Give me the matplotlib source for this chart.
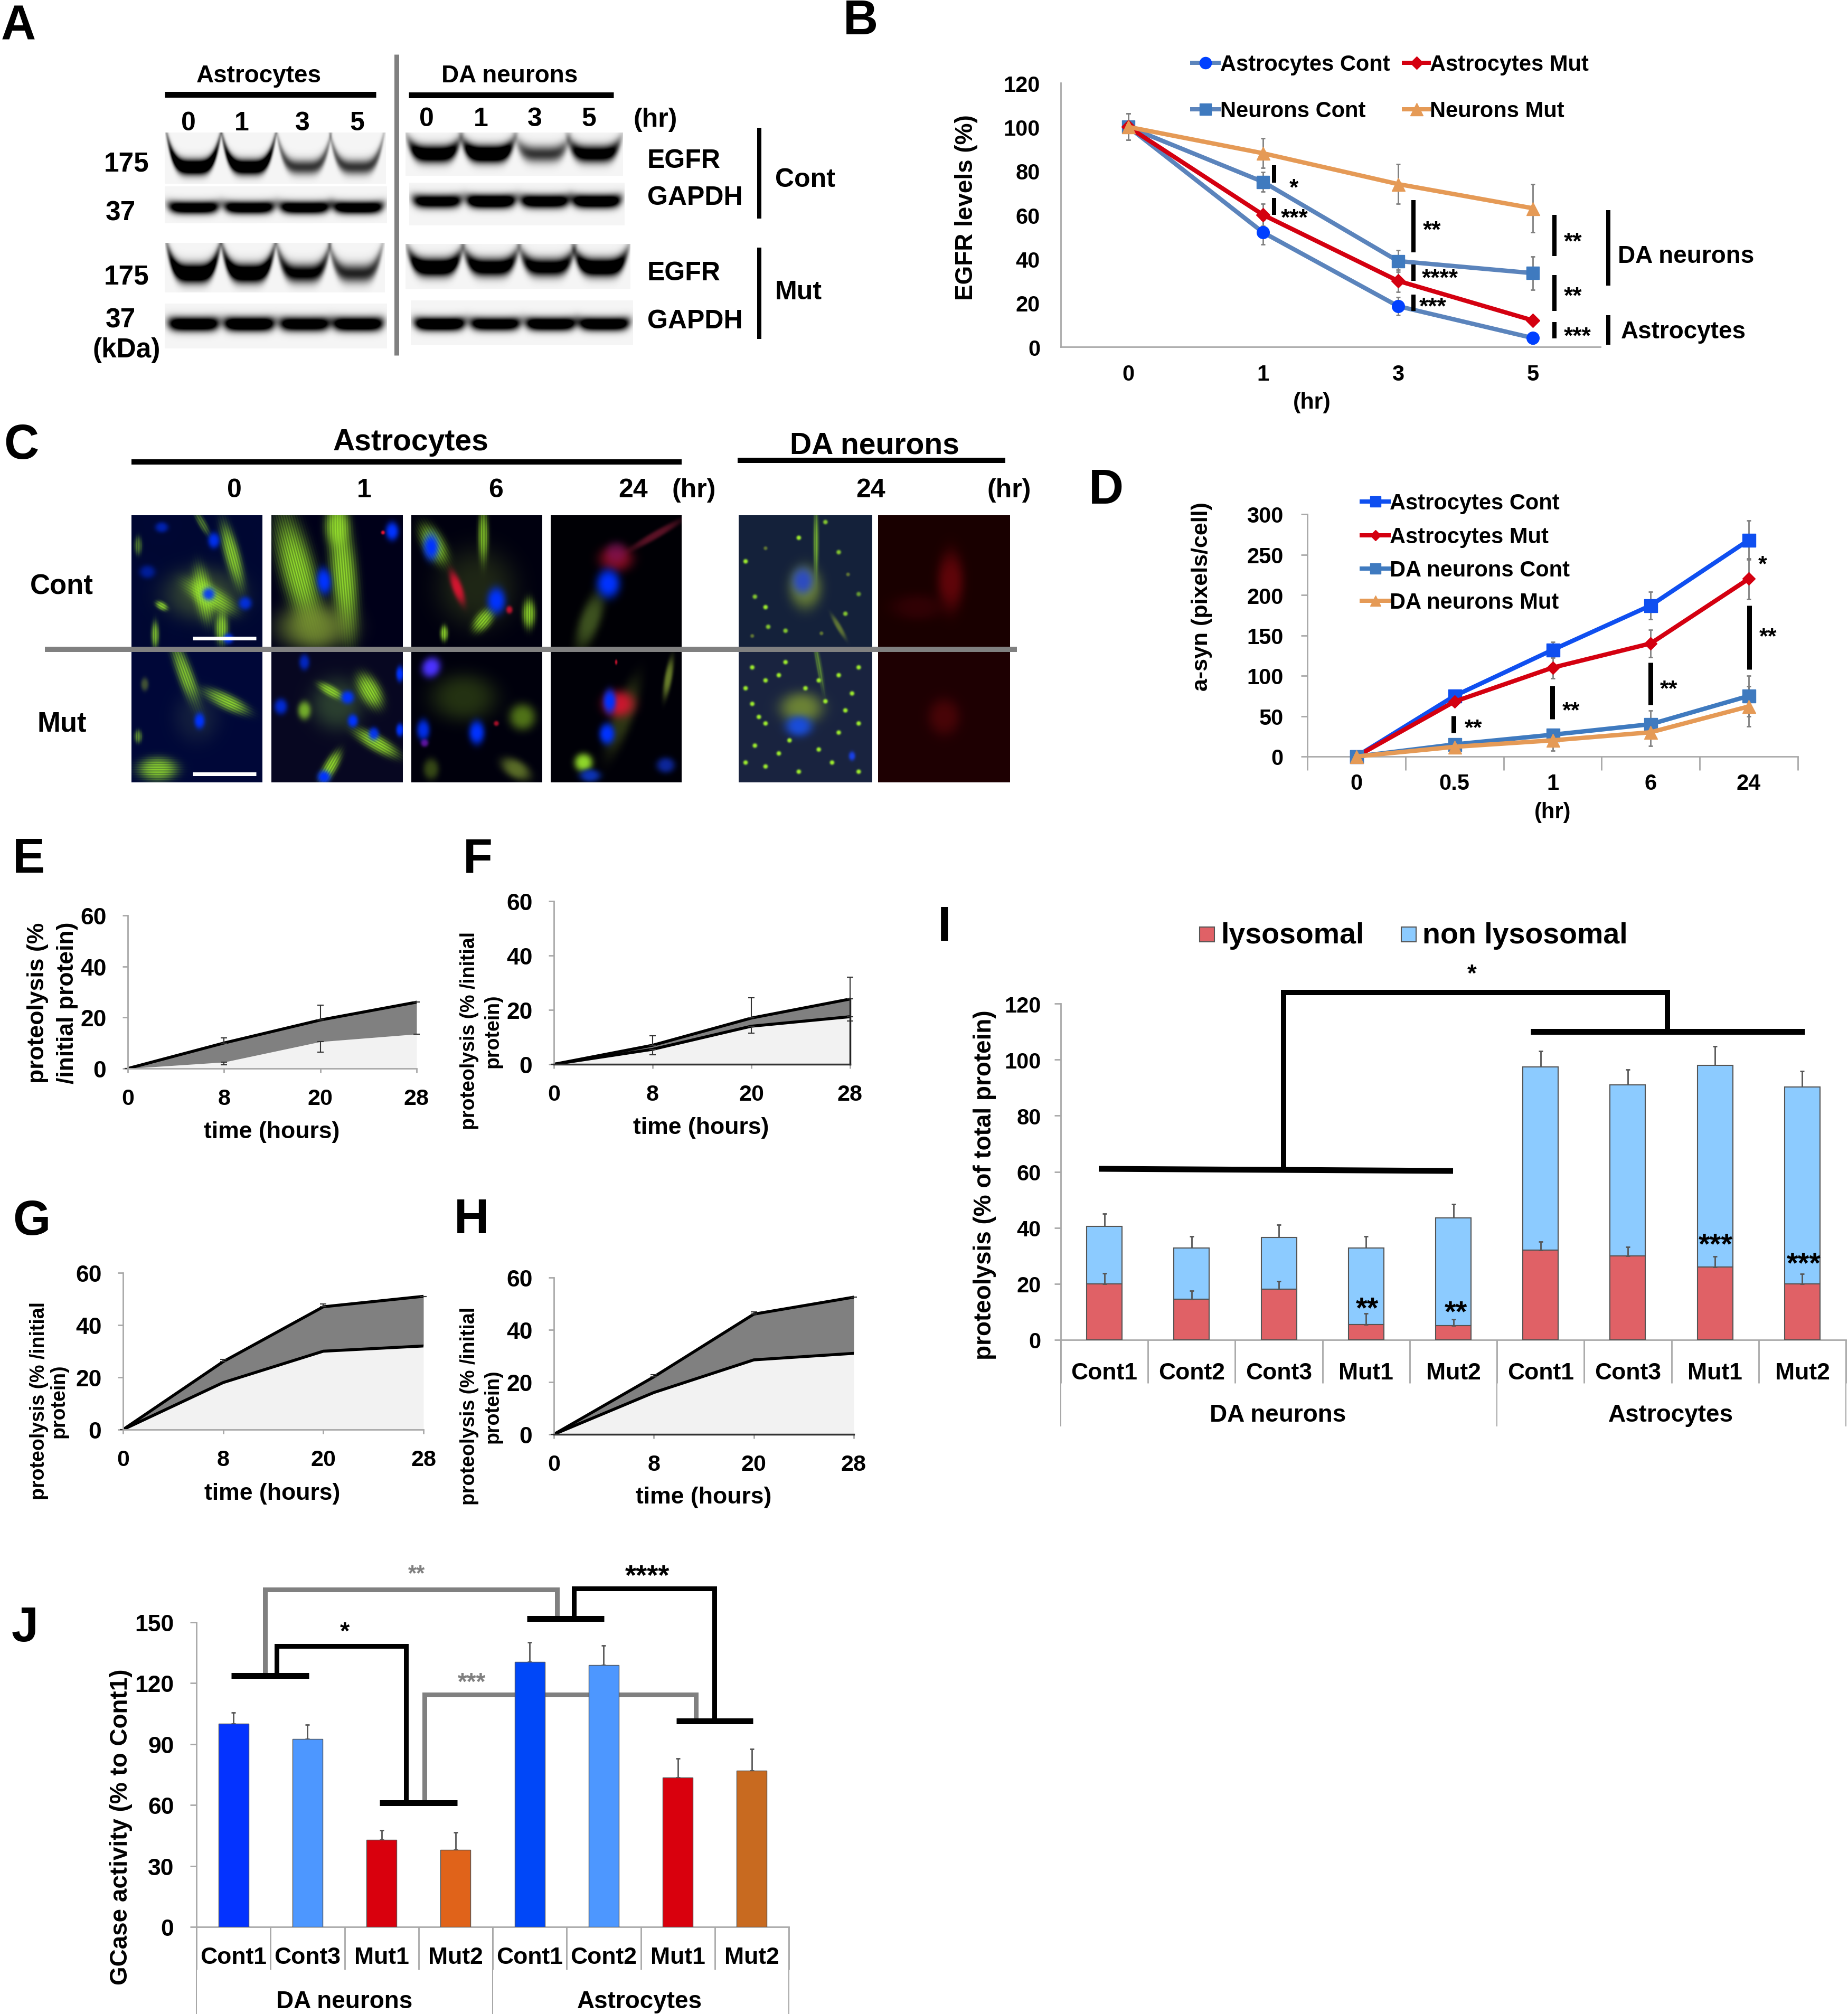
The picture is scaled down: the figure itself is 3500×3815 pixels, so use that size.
import numpy as np
import matplotlib
matplotlib.use('Agg')
import matplotlib.pyplot as plt
from matplotlib.patches import Rectangle

plt.rcParams['font.family'] = ['Liberation Sans', 'DejaVu Sans']
plt.rcParams['font.weight'] = 'bold'
plt.rcParams['axes.labelweight'] = 'bold'

W, H = 3500, 3816

# panel B
b_labels = ['0', '1', '3', '5']
b_astro_cont = [100, 52, 18.5, 4]
b_astro_mut = [100, 60, 30, 12]
b_neuron_cont = [100, 75, 39, 33.5]
b_neuron_mut = [100, 88, 74, 63]
b_err_astro_cont = [6, 5.5, 4, 2.5]
b_err_astro_mut = [6, 5, 5, 2]
b_err_neuron_cont = [6, 4.5, 5, 7.5]
b_err_neuron_mut = [6, 6.7, 9, 11]

# panel D
d_labels = ['0', '0.5', '1', '6', '24']
d_astro_cont = [0, 75, 132, 187, 268]
d_astro_mut = [0, 68, 110, 140, 220]
d_neuron_cont = [0, 15, 27, 40, 75]
d_neuron_mut = [0, 12, 20, 30, 62]
d_err_astro_cont = [0, 5, 10, 17, 24]
d_err_astro_mut = [0, 5, 13, 17, 25]
d_err_neuron_cont = [0, 3, 5, 17, 25]
d_err_neuron_mut = [0, 4, 13, 17, 25]

# panels E-H
time_labels = ['0', '8', '20', '28']
e_top = [0, 10, 19, 26]
e_low = [0, 2.5, 10.5, 13.5]
e_top_err = [0, 2, 5.8, 0]
e_low_err = [0, 1, 4, 0]
f_top = [0, 7, 17, 24]
f_low = [0, 5.5, 14, 17.5]
f_top_err = [0, 3.5, 7.5, 8]
f_low_err = [0, 2, 2.5, 1.5]
g_top = [0, 26, 47, 51]
g_low = [0, 18, 30, 32]
g_top_err = [0, 0.8, 1, 0]
h_top = [0, 22, 46, 52.5]
h_low = [0, 16, 28.5, 31]
h_top_err = [0, 0.8, 0.8, 0]

# panel I
i_labels = ['Cont1', 'Cont2', 'Cont3', 'Mut1', 'Mut2', 'Cont1', 'Cont3', 'Mut1', 'Mut2']
i_lyso = [20, 14.5, 18, 5.5, 5, 32, 30, 26, 20]
i_total = [40.5, 32.7, 36.5, 32.7, 43.5, 97.3, 91, 98, 90.3]
i_lyso_err = [3.7, 3, 3, 4, 2.3, 3, 3.2, 3.7, 3.5]
i_total_err = [4.5, 4.3, 4.5, 4.3, 5, 5.7, 5.5, 6.7, 5.5]

# panel J
j_labels = ['Cont1', 'Cont3', 'Mut1', 'Mut2', 'Cont1', 'Cont2', 'Mut1', 'Mut2']
j_values = [100, 92.5, 43, 38, 130.5, 129, 73.5, 77]
j_err = [5.5, 7, 4.5, 8.5, 9.5, 9.5, 9.5, 10.5]
j_colors = ['#0433ff', '#4d97ff', '#d9000d', '#e0631a', '#0047f8', '#4d97ff', '#d9000d', '#c86a20']

# panel A band strengths, one per lane
astro_egfr_cont = [1.0, 0.95, 0.5, 0.5]
astro_gapdh_cont = [0.9, 0.9, 0.9, 0.9]
astro_egfr_mut = [1.0, 0.95, 0.7, 0.55]
astro_gapdh_mut = [0.95, 1.0, 0.9, 0.95]
neuron_egfr_cont = [0.9, 1.0, 0.5, 0.8]
neuron_gapdh_cont = [0.85, 1.0, 0.9, 0.95]
neuron_egfr_mut = [0.95, 0.85, 0.8, 0.95]
neuron_gapdh_mut = [1.0, 0.9, 0.95, 0.95]

# panel C cell shapes: u, v, width, height, angle, colour, strength
GRN = (0.62, 0.93, 0.18)
BLU = (0.0, 0.2, 1.0)
RED = (0.9, 0.08, 0.2)
DIM = (0.25, 0.33, 0.2)
OLV = (0.5, 0.6, 0.2)
c_cont_0 = [(.55, .6, .3, .2, 0, DIM, .8), (.77, .3, .06, .24, -15, GRN, .9), (.6, .62, .2, .08, 30, GRN, .9),
            (.55, .6, .07, .2, -10, GRN, .9), (.69, .86, .05, .12, 0, GRN, .9), (.23, .69, .05, .03, 30, GRN, .9),
            (.54, .06, .1, .03, 60, GRN, .5), (.18, .91, .03, .1, 0, GRN, .8), (.05, .23, .03, .07, 0, GRN, .5),
            (.23, .09, .05, .04, 0, BLU, .6), (.63, .19, .045, .06, 0, BLU, .9), (.12, .43, .06, .05, 0, BLU, .5),
            (.59, .6, .05, .05, 0, BLU, .9), (.87, .67, .05, .05, 0, BLU, .8), (.74, .94, .04, .04, 0, BLU, .9)]
c_cont_1 = [(.2, .42, .13, .42, -15, GRN, .95), (.55, .45, .1, .45, -5, GRN, .95), (.33, .85, .28, .18, 0, OLV, .8),
            (.5, .08, .09, .15, 0, GRN, .9), (.4, .5, .055, .1, -5, BLU, 1), (.92, .12, .05, .07, 0, BLU, 1),
            (.85, .13, .015, .015, 0, RED, 1)]
c_cont_6 = [(.5, .55, .3, .3, 20, (.2, .25, .1), .6), (.17, .22, .16, .08, 60, GRN, .9), (.55, .15, .04, .2, 0, GRN, .8),
            (.55, .8, .1, .06, -50, GRN, .9), (.9, .75, .05, .11, 0, GRN, .9), (.25, .9, .03, .06, 0, GRN, .9),
            (.15, .24, .06, .1, 0, BLU, 1), (.65, .65, .07, .1, 0, BLU, 1), (.35, .55, .04, .13, -20, RED, .9),
            (.75, .72, .025, .03, 0, RED, .8)]
c_cont_24 = [(.3, .8, .08, .22, 20, (.3, .4, .15), .8), (.5, .33, .13, .1, 0, RED, .55), (.5, .28, .08, .08, 0, (.5, .1, .5), .4),
             (.8, .15, .22, .03, -30, (.5, .1, .2), .7), (.44, .52, .09, .11, 0, BLU, 1)]
c_da_cont_a = [(.5, .55, .12, .16, 0, OLV, .8), (.58, .2, .02, .25, 0, GRN, .7), (.75, .85, .02, .1, -30, OLV, .7),
               (.48, .5, .08, .1, 0, (.18, .3, .75), 1), (.05, .35, .018, .018, 0, GRN, 1), (.2, .7, .018, .018, 0, GRN, 1),
               (.45, .17, .018, .018, 0, GRN, 1), (.75, .28, .018, .018, 0, GRN, .8), (.22, .85, .018, .018, 0, GRN, .8),
               (.8, .75, .018, .018, 0, GRN, .8), (.35, .88, .018, .018, 0, GRN, .8), (.9, .6, .018, .018, 0, GRN, .6),
               (.12, .62, .018, .018, 0, GRN, .8), (.65, .05, .018, .018, 0, GRN, .8), (.2, .25, .015, .015, 0, OLV, .7),
               (.82, .45, .015, .015, 0, OLV, .7), (.1, .92, .015, .015, 0, OLV, .7), (.62, .9, .015, .015, 0, OLV, .7)]
c_da_cont_r = [(.55, .5, .1, .22, 0, (.4, .02, .04), .9), (.3, .7, .2, .1, 0, (.25, .01, .03), .6)]
c_mut_0 = [(.42, .2, .06, .28, -20, GRN, .85), (.72, .38, .18, .06, 25, GRN, .95), (.5, .5, .18, .2, 0, (.1, .15, .25), .7),
           (.2, .9, .15, .09, 0, GRN, .9), (.05, .65, .03, .05, 0, GRN, .6), (.52, .53, .04, .06, 0, BLU, 1),
           (.1, .25, .03, .05, 0, OLV, .5)]
c_mut_1 = [(.5, .4, .2, .2, 0, (.2, .3, .2), .8), (.75, .3, .14, .08, 60, GRN, .95), (.8, .7, .18, .06, 30, GRN, .95),
           (.45, .3, .1, .04, 30, GRN, .9), (.45, .88, .13, .05, -60, GRN, .95), (.25, .45, .05, .07, 0, GRN, .7),
           (.58, .35, .05, .05, 0, BLU, 1), (.07, .42, .05, .06, 0, BLU, .8), (.62, .53, .04, .05, 0, BLU, 1),
           (.78, .63, .04, .05, 0, BLU, .9), (.25, .08, .04, .06, 0, BLU, .7), (.4, .96, .05, .05, 0, BLU, 1),
           (.98, .17, .03, .06, 0, BLU, 1), (.98, .6, .03, .05, 0, BLU, 1)]
c_mut_6 = [(.4, .35, .25, .18, 0, (.2, .28, .08), .7), (.85, .5, .1, .1, 30, (.35, .5, .1), .9), (.8, .9, .12, .07, 30, OLV, .7),
           (.15, .9, .06, .08, 0, (.3, .4, .1), .7), (.15, .12, .07, .08, 30, (.3, .2, 1), 1), (.5, .62, .06, .09, 0, BLU, 1),
           (.09, .6, .05, .08, 0, BLU, .9), (.1, .7, .03, .03, 0, (.5, .1, .8), .7), (.65, .55, .02, .02, 0, RED, .7)]
c_mut_24 = [(.55, .5, .08, .3, 20, (.25, .3, .1), .7), (.25, .85, .07, .07, 0, GRN, .9), (.9, .2, .03, .15, 10, OLV, .8),
            (.52, .4, .12, .1, 0, RED, .85), (.45, .38, .05, .09, 0, BLU, 1), (.43, .63, .06, .08, 0, BLU, 1),
            (.3, .95, .08, .05, 0, (.05, .2, .7), 1), (.88, .87, .07, .06, 0, (.05, .15, .6), 1),
            (.5, .08, .01, .02, 0, RED, .8)]
c_da_mut_a = [(.47, .43, .16, .12, 0, OLV, .8), (.45, .57, .1, .08, 0, (.1, .3, .85), 1), (.85, .8, .025, .035, 0, (.1, .25, .9), 1),
              (.6, .1, .02, .2, -10, GRN, .5), (.1, .12, .018, .018, 0, GRN, 1), (.2, .22, .018, .018, 0, GRN, 1),
              (.35, .08, .018, .018, 0, GRN, 1), (.75, .18, .018, .018, 0, GRN, 1), (.85, .32, .018, .018, 0, GRN, 1),
              (.1, .4, .018, .018, 0, GRN, 1), (.2, .55, .018, .018, 0, GRN, 1), (.12, .72, .018, .018, 0, GRN, 1),
              (.3, .78, .018, .018, 0, GRN, 1), (.75, .62, .018, .018, 0, GRN, 1), (.9, .55, .018, .018, 0, GRN, 1),
              (.7, .85, .018, .018, 0, GRN, 1), (.2, .88, .018, .018, 0, GRN, 1), (.5, .28, .018, .018, 0, GRN, 1),
              (.65, .38, .018, .018, 0, GRN, 1), (.45, .92, .018, .018, 0, GRN, 1), (.3, .18, .018, .018, 0, GRN, 1),
              (.6, .22, .018, .018, 0, GRN, 1), (.9, .12, .018, .018, 0, GRN, 1), (.05, .28, .018, .018, 0, GRN, 1),
              (.8, .45, .018, .018, 0, GRN, 1), (.15, .5, .018, .018, 0, GRN, 1), (.6, .75, .018, .018, 0, GRN, 1),
              (.9, .92, .018, .018, 0, GRN, 1), (.05, .85, .018, .018, 0, GRN, 1), (.38, .68, .018, .018, 0, GRN, 1)]
c_da_mut_r = [(.5, .5, .12, .14, 0, (.3, .02, .03), .9)]


def px(v):
    # picture pixels to points at dpi 100
    return v * 0.72


def ax_px(left, top, right, bottom):
    ax = fig.add_axes([left / W, 1 - bottom / H, (right - left) / W, (bottom - top) / H], zorder=5)
    ax.patch.set_visible(False)
    for s in ['top', 'right']:
        ax.spines[s].set_visible(False)
    for s in ['left', 'bottom']:
        ax.spines[s].set_color('#a8a8a8')
        ax.spines[s].set_linewidth(2)
    ax.tick_params(colors='#a8a8a8', labelcolor='black', width=2)
    return ax


def txt(x, y, s, size, ha='center', rotation=0, **kw):
    # text centres come out a little high, so nudge by size
    if not rotation:
        y += size * 0.1
    front.text(x, y, s, fontsize=size, ha=ha, va='center', fontweight='bold', rotation=rotation, **kw)


def seg(xs, ys, w=8, color='black', layer=None, cap='butt'):
    (layer or front).plot(xs, ys, color=color, lw=px(w), solid_capstyle=cap, solid_joinstyle='miter')


def star(x, y, s, size=30, color='black'):
    # asterisks sit high in the font, so push them down a bit
    front.text(x, y + size * 0.28, s, fontsize=size, ha='center', va='center', fontweight='bold', color=color)


def blot(box, strengths, band, thick, smile, bg=0.96):
    l, t, r, b = box
    n_y, n_x = int(b - t), int(r - l)
    yy, xx = np.mgrid[0:1:n_y * 1j, 0:1:n_x * 1j]
    dark = np.zeros_like(xx)
    for c, s in zip([.13, .38, .63, .87], strengths):
        d = (xx - c) / 0.115
        centre = band - smile * d ** 4
        win = np.exp(-np.abs(d) ** 6)
        dark += s * win * np.exp(-((yy - centre) / thick) ** 2)
    img = np.clip(bg - 1.5 * dark, 0, 1)
    front.imshow(img, extent=(l, r, b, t), cmap='gray', vmin=0, vmax=1, aspect='auto', interpolation='bilinear')


def cell_image(box, bg, blobs):
    l, t, r, b = box
    yy, xx = np.mgrid[0:1:250j, 0:1:250j]
    img = np.ones((250, 250, 3)) * np.array(bg)
    for u, v, su, sv, ang, col, a in blobs:
        th = np.deg2rad(ang)
        dx = (xx - u) * np.cos(th) + (yy - v) * np.sin(th)
        dy = -(xx - u) * np.sin(th) + (yy - v) * np.cos(th)
        g = a * np.exp(-((dx / su) ** 2 + (dy / sv) ** 2) ** 1.5)
        # fibres along the long side of the green shapes
        if col == GRN and max(su, sv) > 1.5 * min(su, sv):
            across = dx if sv > su else dy
            g = g * (0.82 + 0.18 * np.sin(across * 2 * np.pi / 0.019))
        g = g[..., None]
        img = img * (1 - g) + np.array(col) * g
    front.imshow(np.clip(img, 0, 1), extent=(l, r, b, t), aspect='auto', interpolation='bilinear')


def legend_mark(x0, x1, y, line, marker, mcolor, ms):
    front.plot([x0, x1], [y, y], color=line, lw=px(8))
    front.plot([(x0 + x1) / 2], [y], marker=marker, color=mcolor, ms=ms, ls='none')


def line_series(ax, x, y, err, line, marker, mcolor, ms, lw=6):
    ax.errorbar(x, y, yerr=err, color='#808080', lw=0, elinewidth=2, capsize=3, capthick=2, zorder=2, clip_on=False)
    ax.plot(x, y, color=line, lw=lw, marker=marker, mfc=mcolor, mec=mcolor, ms=ms, zorder=3, clip_on=False)


fig = plt.figure(figsize=(W / 100, H / 100), dpi=100, facecolor='white')
back = fig.add_axes([0, 0, 1, 1], zorder=0)
front = fig.add_axes([0, 0, 1, 1], zorder=10)
for o in (back, front):
    o.axis('off')
    o.patch.set_visible(False)

# panel letters
for s, x, y in [('A', 35, 44), ('B', 1630, 34), ('C', 40, 838), ('D', 2095, 923), ('E', 54, 1622), ('F', 905, 1622),
                ('G', 60, 2308), ('H', 893, 2305), ('I', 1789, 1751), ('J', 47, 3078)]:
    txt(x, y, s, 66)

# --- A
txt(490, 141, 'Astrocytes', 33)
txt(965, 141, 'DA neurons', 33)
seg([312, 712], [180, 180], 11)
seg([774, 1162], [181, 181], 11)
seg([751, 751], [104, 674], 9, '#808080')
for x, s in zip([357, 458, 573, 676], b_labels):
    txt(x, 230, s, 36)
for x, s in zip([808, 911, 1013, 1115], b_labels):
    txt(x, 222, s, 36)
txt(1241, 223, '(hr)', 36)
for s, x, y in [('175', 240, 307), ('37', 228, 400), ('175', 240, 521), ('37', 228, 603), ('(kDa)', 240, 660)]:
    txt(x, y, s, 37)
for s, x, y in [('EGFR', 1226, 301), ('GAPDH', 1226, 371), ('EGFR', 1226, 514), ('GAPDH', 1226, 605),
                ('Cont', 1468, 337), ('Mut', 1468, 550)]:
    txt(x, y, s, 36, ha='left')
seg([1438, 1438], [243, 415], 8)
seg([1438, 1438], [470, 643], 8)
blot((312, 252, 731, 349), astro_egfr_cont, .68, .15, .5)
blot((312, 354, 733, 424), astro_gapdh_cont, .58, .17, .06)
blot((312, 461, 729, 555), astro_egfr_mut, .62, .19, .45)
blot((312, 576, 733, 661), astro_gapdh_mut, .46, .16, .03)
blot((768, 252, 1180, 334), neuron_egfr_cont, .5, .2, .25)
blot((775, 347, 1183, 428), neuron_gapdh_cont, .44, .16, .05)
blot((768, 463, 1194, 549), neuron_egfr_mut, .52, .2, .3)
blot((778, 570, 1199, 655), neuron_gapdh_mut, .53, .15, .04)

# --- B
ax = ax_px(2009, 158, 3031, 658)
x = range(4)
line_series(ax, x, b_astro_cont, b_err_astro_cont, '#5b84bc', 'o', '#0040ff', 17)
line_series(ax, x, b_neuron_cont, b_err_neuron_cont, '#5b84bc', 's', '#3f7abf', 17)
line_series(ax, x, b_astro_mut, b_err_astro_mut, '#d40010', 'D', '#d40010', 13)
line_series(ax, x, b_neuron_mut, b_err_neuron_mut, '#e59a56', '^', '#e59a56', 18)
ax.set_xlim(-.5, 3.5)
ax.set_ylim(0, 120)
ax.set_yticks(range(0, 121, 20))
ax.set_xticks(list(x), b_labels)
ax.tick_params(axis='x', length=0, pad=23, labelsize=30)
ax.tick_params(axis='y', length=0, pad=28, labelsize=30)
txt(2485, 760, '(hr)', 31)
txt(1830, 393, 'EGFR levels (%)', 33, rotation=90)
legend_mark(2258, 2308, 120, '#5b84bc', 'o', '#0040ff', 16)
legend_mark(2659, 2706, 120, '#d40010', 'D', '#d40010', 12)
legend_mark(2258, 2308, 208, '#5b84bc', 's', '#3f7abf', 16)
legend_mark(2659, 2706, 208, '#e59a56', '^', '#e59a56', 17)
txt(2311, 120, 'Astrocytes Cont', 30, ha='left')
txt(2708, 120, 'Astrocytes Mut', 30, ha='left')
txt(2311, 208, 'Neurons Cont', 30, ha='left')
txt(2708, 208, 'Neurons Mut', 30, ha='left')
for xx, y0, y1 in [(2413, 314, 347), (2413, 376, 408), (2677, 380, 479), (2677, 502, 533), (2677, 559, 590),
                   (2944, 408, 486), (2944, 522, 590), (2944, 611, 642), (3046, 399, 542), (3046, 598, 654)]:
    seg([xx, xx], [y0, y1], 8)
for s, xx, yy in [('*', 2450, 349), ('***', 2452, 406), ('**', 2712, 429), ('****', 2727, 520), ('***', 2714, 574),
                  ('**', 2979, 451), ('**', 2979, 554), ('***', 2988, 630)]:
    star(xx, yy, s, 32)
txt(3064, 483, 'DA neurons', 33, ha='left')
txt(3070, 626, 'Astrocytes', 33, ha='left')

# --- C
txt(778, 834, 'Astrocytes', 41)
txt(1656, 840, 'DA neurons', 41)
seg([249, 1291], [876, 876], 10)
seg([1397, 1904], [873, 873], 10)
for xx, s in [(444, '0'), (690, '1'), (939, '6'), (1199, '24'), (1314, '(hr)'), (1649, '24'), (1911, '(hr)')]:
    txt(xx, 925, s, 36)
txt(117, 1108, 'Cont', 38)
txt(117, 1368, 'Mut', 38)
col_x = [(249, 497), (514, 763), (779, 1027), (1043, 1291), (1399, 1652), (1663, 1913)]
cont_row = [((0, .03, .2), c_cont_0), ((0, 0, .1), c_cont_1), ((0, 0, .06), c_cont_6), ((0, 0, .02), c_cont_24),
            ((.08, .13, .23), c_da_cont_a), ((.1, 0, 0), c_da_cont_r)]
mut_row = [((0, .03, .22), c_mut_0), ((.03, .03, .13), c_mut_1), ((0, 0, .05), c_mut_6), ((0, 0, .03), c_mut_24),
           ((.1, .14, .25), c_da_mut_a), ((.12, 0, .01), c_da_mut_r)]
for (l, r), (bg, blobs) in zip(col_x, cont_row):
    cell_image((l, 977, r, 1226), bg, blobs)
for (l, r), (bg, blobs) in zip(col_x, mut_row):
    cell_image((l, 1235, r, 1483), bg, blobs)
seg([85, 1926], [1231, 1231], 10, '#808080')
seg([365, 485], [1210, 1210], 7, 'white')
seg([365, 485], [1467, 1467], 7, 'white')

# --- D
ax = ax_px(2476, 975, 3405, 1434)
x = range(5)
line_series(ax, x, d_astro_cont, d_err_astro_cont, '#0f4ff0', 's', '#0f4ff0', 18)
line_series(ax, x, d_astro_mut, d_err_astro_mut, '#d40010', 'D', '#d40010', 12)
line_series(ax, x, d_neuron_cont, d_err_neuron_cont, '#3f7abf', 's', '#3f7abf', 18)
line_series(ax, x, d_neuron_mut, d_err_neuron_mut, '#e59a56', '^', '#e59a56', 18)
ax.set_xlim(-.5, 4.5)
ax.set_ylim(0, 300)
ax.set_yticks(range(0, 301, 50))
ax.set_xticks(np.arange(-.5, 5, 1), [''] * 6)
ax.set_xticks(list(x), d_labels, minor=True)
ax.tick_params(axis='x', length=px(26), labelsize=29)
ax.tick_params(axis='x', which='minor', length=0, pad=22, labelsize=30)
ax.tick_params(axis='y', length=px(12), pad=24, labelsize=30)
txt(2941, 1536, '(hr)', 30)
txt(2276, 1130, 'a-syn (pixels/cell)', 31, rotation=90)
for yy, s, line, m, ms in [(951, 'Astrocytes Cont', '#0f4ff0', 's', 15), (1015, 'Astrocytes Mut', '#d40010', 'D', 10),
                           (1078, 'DA neurons Cont', '#3f7abf', 's', 15), (1139, 'DA neurons Mut', '#e59a56', '^', 15)]:
    legend_mark(2579, 2630, yy, line, m, line, ms)
    txt(2632, yy, s, 30, ha='left')
for xx, y0, y1 in [(2753, 1357, 1389), (2940, 1300, 1363), (3126, 1256, 1336), (3313, 1148, 1269)]:
    seg([xx, xx], [y0, y1], 9)
for s, xx, yy in [('**', 2791, 1371), ('**', 2976, 1338), ('**', 3161, 1297), ('**', 3349, 1198), ('*', 3338, 1061)]:
    star(xx, yy, s, 31)


# --- E to H
def area_panel(box, top, low, top_err, low_err, line_low, frame, tick_pad):
    ax = ax_px(*box)
    x = [0, 1, 2, 3]
    ax.fill_between(x, low, 0, color='#f2f2f2', lw=0)
    ax.fill_between(x, top, low, color='#808080', lw=0)
    ax.plot(x, top, color='black', lw=4)
    if line_low:
        ax.plot(x, low, color='black', lw=4)
    ax.errorbar(x, top, yerr=[[0] * 4, top_err], fmt='none', ecolor='#333333', elinewidth=1.5, capsize=4, capthick=1.5, clip_on=False)
    if low_err is not None:
        ax.errorbar(x, low, yerr=[low_err, [0] * 4], fmt='none', ecolor='#333333', elinewidth=1.5, capsize=4, capthick=1.5, clip_on=False)
    ax.set_xlim(0, 3)
    ax.set_ylim(0, 60)
    ax.set_yticks(range(0, 61, 20))
    ax.set_xticks(x, time_labels)
    ax.tick_params(axis='x', length=px(8), pad=tick_pad, labelsize=31)
    ax.tick_params(axis='y', length=px(10), pad=22, labelsize=32)
    if frame:
        ax.spines['bottom'].set_color('#333333')
        ax.spines['bottom'].set_linewidth(2.5)
    return ax


area_panel((242, 1735, 789, 2025), e_top, e_low, e_top_err, e_low_err, False, False, 21)
txt(72, 1900, 'proteolysis (%', 32, rotation=90)
txt(127, 1900, '/initial protein)', 32, rotation=90)
txt(515, 2141, 'time (hours)', 32)

ax = area_panel((1049, 1708, 1610, 2017), f_top, f_low, f_top_err, f_low_err, True, True, 21)
ax.plot([3, 3], [0, 24], color='#222222', lw=2.5, clip_on=False)
txt(889, 1952, 'proteolysis (% /initial', 27, rotation=90)
txt(934, 1953, 'protein)', 27, rotation=90)
txt(1328, 2133, 'time (hours)', 32)

area_panel((233, 2412, 802, 2709), g_top, g_low, g_top_err, None, True, False, 21)
txt(74, 2654, 'proteolysis (% /initial', 27, rotation=90)
txt(112, 2654, 'protein)', 27, rotation=90)
txt(516, 2826, 'time (hours)', 32)

area_panel((1049, 2421, 1617, 2718), h_top, h_low, h_top_err, None, True, True, 21)
txt(889, 2664, 'proteolysis (% /initial', 27, rotation=90)
txt(934, 2664, 'protein)', 27, rotation=90)
txt(1333, 2833, 'time (hours)', 32)

# --- I
ax = ax_px(2009, 1902, 3496, 2539)
x = np.arange(9)
non_lyso = [t - l for t, l in zip(i_total, i_lyso)]
ax.bar(x, i_lyso, 0.405, color='#e06166', edgecolor='#555555', lw=1.5, zorder=3)
ax.bar(x, non_lyso, 0.405, bottom=i_lyso, color='#8ccbff', edgecolor='#555555', lw=1.5, zorder=2)
ax.errorbar(x, i_total, yerr=[[0] * 9, i_total_err], fmt='none', ecolor='#555555', elinewidth=2, capsize=3, capthick=2, zorder=1)
ax.errorbar(x, i_lyso, yerr=[[0] * 9, i_lyso_err], fmt='none', ecolor='#555555', elinewidth=2, capsize=3, capthick=2, zorder=4)
ax.set_xlim(-.5, 8.5)
ax.set_ylim(0, 120)
ax.set_yticks(range(0, 121, 20))
ax.set_xticks(np.arange(-.5, 9, 1), [''] * 10)
ax.set_xticks(x, i_labels, minor=True)
ax.tick_params(axis='x', length=px(82), labelsize=30)
ax.tick_params(axis='x', which='minor', length=0, pad=30, labelsize=32)
ax.tick_params(axis='y', length=px(12), pad=18, labelsize=30)
for xx in [2009, 2835, 3496]:
    seg([xx, xx], [2539, 2703], 2, '#a8a8a8')
txt(2420, 2678, 'DA neurons', 33)
txt(3164, 2678, 'Astrocytes', 33)
txt(1865, 2245, 'proteolysis (% of total protein)', 33, rotation=90)
front.add_patch(Rectangle((2272, 1757), 28, 28, fc='#e06166', ec='#555555', lw=1.5))
front.add_patch(Rectangle((2654, 1757), 28, 28, fc='#8ccbff', ec='#555555', lw=1.5))
txt(2312, 1769, 'lysosomal', 40, ha='left')
txt(2694, 1769, 'non lysosomal', 40, ha='left')
seg([2431, 2431, 3158, 3158], [2216, 1881, 1881, 1955], 10)
seg([2081, 2752], [2215, 2219], 11)
seg([2899, 3418], [1955, 1955], 11)
star(2788, 1837, '*', 33)
for s, xx, yy in [('**', 2589, 2470), ('**', 2757, 2477), ('***', 3249, 2349), ('***', 3416, 2385)]:
    star(xx, yy, s, 40)

# --- J
ax = ax_px(372, 3074, 1494, 3651)
x = np.arange(8)
ax.bar(x, j_values, 0.405, color=j_colors, edgecolor='#555555', lw=1, zorder=3)
ax.errorbar(x, j_values, yerr=[[0] * 8, j_err], fmt='none', ecolor='#555555', elinewidth=2, capsize=3, capthick=2, zorder=2)
ax.set_xlim(-.5, 7.5)
ax.set_ylim(0, 150)
ax.set_yticks(range(0, 151, 30))
ax.set_xticks(np.arange(-.5, 8, 1), [''] * 9)
ax.set_xticks(x, j_labels, minor=True)
ax.tick_params(axis='x', length=px(81), labelsize=31)
ax.tick_params(axis='x', which='minor', length=0, pad=27, labelsize=32)
ax.tick_params(axis='y', length=px(12), pad=22, labelsize=32)
for xx in [372, 933, 1494]:
    seg([xx, xx], [3651, 3816], 2, '#a8a8a8')
txt(652, 3789, 'DA neurons', 33)
txt(1211, 3789, 'Astrocytes', 33)
txt(229, 3461, 'GCase activity (% to Cont1)', 33, rotation=90)
seg([502, 502, 1055, 1055], [3173, 3012, 3012, 3066], 9, '#808080')
seg([1087, 1087, 1353, 1353], [3066, 3010, 3010, 3261], 9)
seg([998, 1144], [3067, 3067], 11)
seg([438, 585], [3175, 3175], 11)
seg([524, 524, 769, 769], [3174, 3119, 3119, 3416], 9)
seg([719, 866], [3416, 3416], 11)
seg([804, 804, 1318, 1318], [3416, 3211, 3211, 3261], 9, '#808080', layer=back)
seg([1281, 1426], [3261, 3261], 11)
star(789, 2974, '**', 30, '#808080')
star(1226, 2977, '****', 39)
star(653, 3083, '*', 34)
star(894, 3179, '***', 33, '#808080')

for o in (back, front):
    o.set_xlim(0, W)
    o.set_ylim(H, 0)

fig.savefig('out.png', dpi=100)
